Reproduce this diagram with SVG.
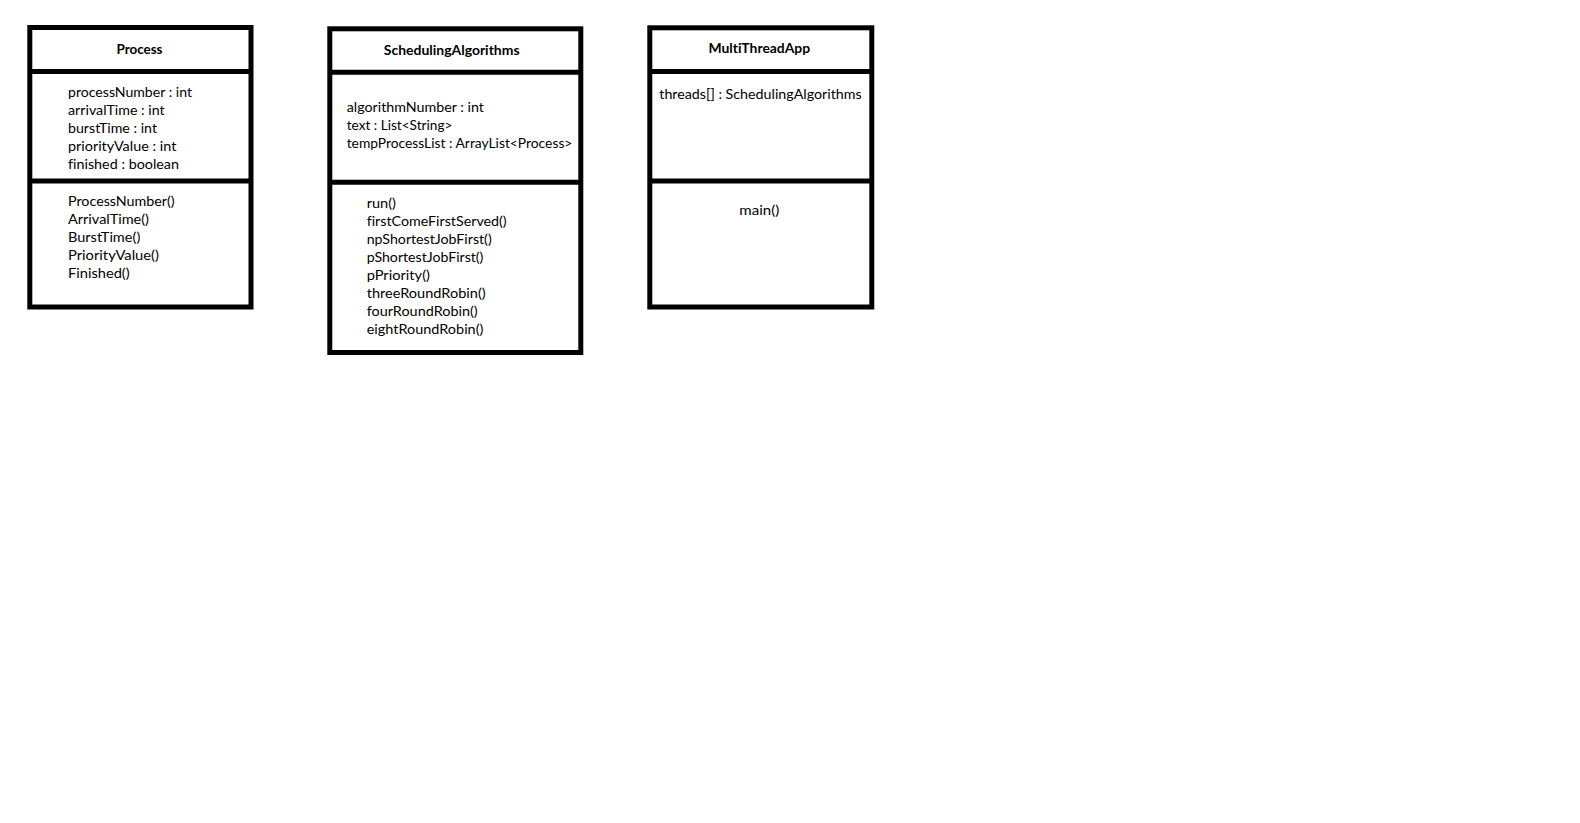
<svg xmlns="http://www.w3.org/2000/svg" width="1580" height="823" viewBox="0 0 1580 823">
<style>
.box{fill:#fff;stroke:#000;stroke-width:5}
.div{stroke:#000;stroke-width:5}
text{font-family:Lato,"Liberation Sans",sans-serif;font-size:14px;fill:#000;font-variant-ligatures:none}
.t{font-weight:bold;text-anchor:middle}
.c{text-anchor:middle}
</style>
<rect width="1580" height="823" fill="#fff"/>
<g id="Process">
<rect class="box" x="29.8" y="27.5" width="221.2" height="279.5"/>
<line class="div" x1="29.8" y1="71.5" x2="251" y2="71.5"/>
<line class="div" x1="29.8" y1="181" x2="251" y2="181"/>
<text class="t" x="139.5" y="54" textLength="46" lengthAdjust="spacingAndGlyphs">Process</text>
<text x="68" y="97" textLength="124" lengthAdjust="spacingAndGlyphs">processNumber : int</text>
<text x="68" y="115" textLength="96.7" lengthAdjust="spacingAndGlyphs">arrivalTime : int</text>
<text x="68" y="133" textLength="89" lengthAdjust="spacingAndGlyphs">burstTime : int</text>
<text x="68" y="151" textLength="108.3" lengthAdjust="spacingAndGlyphs">priorityValue : int</text>
<text x="68" y="169" textLength="111" lengthAdjust="spacingAndGlyphs">finished : boolean</text>
<text x="68" y="206" textLength="106.7" lengthAdjust="spacingAndGlyphs">ProcessNumber()</text>
<text x="68" y="224" textLength="81" lengthAdjust="spacingAndGlyphs">ArrivalTime()</text>
<text x="68" y="242" textLength="72.3" lengthAdjust="spacingAndGlyphs">BurstTime()</text>
<text x="68" y="260" textLength="91" lengthAdjust="spacingAndGlyphs">PriorityValue()</text>
<text x="68" y="278" textLength="61.7" lengthAdjust="spacingAndGlyphs">Finished()</text>
</g>
<g id="SchedulingAlgorithms">
<rect class="box" x="329.8" y="28.8" width="251" height="323.7"/>
<line class="div" x1="329.8" y1="72.2" x2="580.8" y2="72.2"/>
<line class="div" x1="329.8" y1="182.2" x2="580.8" y2="182.2"/>
<text class="t" x="451.7" y="55" textLength="135.7" lengthAdjust="spacingAndGlyphs">SchedulingAlgorithms</text>
<text x="346.7" y="112" textLength="137.3" lengthAdjust="spacingAndGlyphs">algorithmNumber : int</text>
<text x="346.7" y="130" textLength="105.7" lengthAdjust="spacingAndGlyphs">text : List&lt;String&gt;</text>
<text x="346.7" y="148" textLength="225.7" lengthAdjust="spacingAndGlyphs">tempProcessList : ArrayList&lt;Process&gt;</text>
<text x="366.7" y="207.5" textLength="29.3" lengthAdjust="spacingAndGlyphs">run()</text>
<text x="366.7" y="225.5" textLength="140" lengthAdjust="spacingAndGlyphs">firstComeFirstServed()</text>
<text x="366.7" y="243.5" textLength="125" lengthAdjust="spacingAndGlyphs">npShortestJobFirst()</text>
<text x="366.7" y="261.5" textLength="116.7" lengthAdjust="spacingAndGlyphs">pShortestJobFirst()</text>
<text x="366.7" y="279.5" textLength="63.3" lengthAdjust="spacingAndGlyphs">pPriority()</text>
<text x="366.7" y="297.5" textLength="119" lengthAdjust="spacingAndGlyphs">threeRoundRobin()</text>
<text x="366.7" y="315.5" textLength="111" lengthAdjust="spacingAndGlyphs">fourRoundRobin()</text>
<text x="366.7" y="333.5" textLength="116.7" lengthAdjust="spacingAndGlyphs">eightRoundRobin()</text>
</g>
<g id="MultiThreadApp">
<rect class="box" x="649.8" y="27.8" width="222" height="279.2"/>
<line class="div" x1="649.8" y1="71.5" x2="871.8" y2="71.5"/>
<line class="div" x1="649.8" y1="181" x2="871.8" y2="181"/>
<text class="t" x="759.3" y="53" textLength="101.7" lengthAdjust="spacingAndGlyphs">MultiThreadApp</text>
<text x="659.3" y="99" textLength="202.3" lengthAdjust="spacingAndGlyphs">threads[] : SchedulingAlgorithms</text>
<text class="c" x="759.3" y="214.5" textLength="40" lengthAdjust="spacingAndGlyphs">main()</text>
</g>
<g id="connectors"/>
</svg>
